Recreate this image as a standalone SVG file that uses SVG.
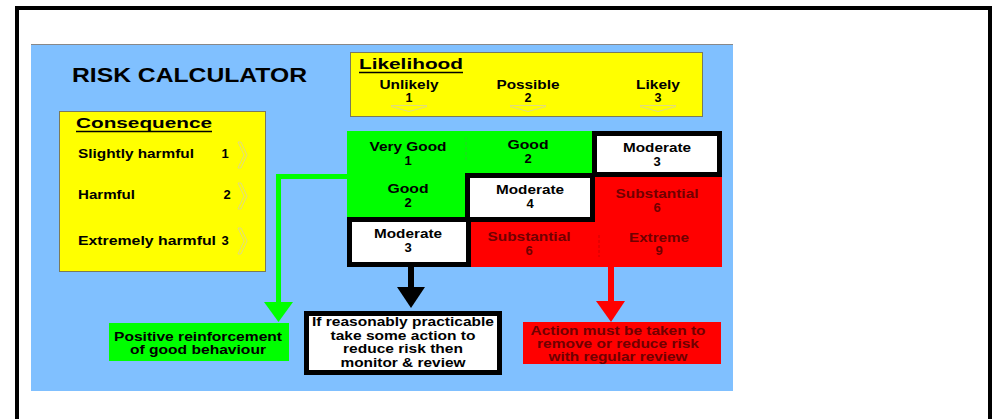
<svg xmlns="http://www.w3.org/2000/svg" width="994" height="419" viewBox="0 0 994 419">
<style>
text{font-family:"Liberation Sans",Arial,sans-serif;font-weight:bold;fill:#000}
.c{text-anchor:middle}
.t13{font-size:12.5px}
.t14{font-size:13px}
.dr{fill:#700000}
.yel{fill:#ffff00;stroke:#7a7a5a;stroke-width:1}
.grn{fill:#00ff00}
.red{fill:#ff0000}
.mod{fill:#ffffff;stroke:#000;stroke-width:5}
.faint{fill:none;stroke:#d8d2a0;stroke-width:0.8}
.div{stroke:#5a9a5a;stroke-width:0.8;stroke-dasharray:3 2;opacity:0.6}
.ul{stroke:#000;stroke-width:1.5}
</style>
<rect x="0" y="0" width="994" height="419" fill="#ffffff"/>
<rect x="17" y="8" width="973" height="430" fill="none" stroke="#000" stroke-width="4"/>
<rect x="31" y="44" width="702" height="347" fill="#80c0ff"/>
<line x1="31" y1="44.5" x2="733" y2="44.5" stroke="#888" stroke-width="1"/>
<text x="72" y="82" font-size="19.5" textLength="235" lengthAdjust="spacingAndGlyphs">RISK CALCULATOR</text>

<g id="consequence">
<rect class="yel" x="59.5" y="111.5" width="206" height="160"/>
<text x="76" y="128" font-size="15" textLength="136" lengthAdjust="spacingAndGlyphs">Consequence</text>
<line class="ul" x1="76" y1="131.5" x2="212" y2="131.5"/>
<text x="78" y="158" font-size="12.5" textLength="116" lengthAdjust="spacingAndGlyphs">Slightly harmful</text>
<text class="c" x="225" y="158" font-size="13">1</text>
<text x="78" y="199" font-size="12.5" textLength="57" lengthAdjust="spacingAndGlyphs">Harmful</text>
<text class="c" x="227" y="199" font-size="13">2</text>
<text x="78" y="245" font-size="12.5" textLength="138" lengthAdjust="spacingAndGlyphs">Extremely harmful</text>
<text class="c" x="225" y="245" font-size="13">3</text>
<path class="faint" d="M238,142 L241,142 L247,155 L241,168 L238,168 L244,155 Z"/>
<path class="faint" d="M238,183 L241,183 L247,196 L241,209 L238,209 L244,196 Z"/>
<path class="faint" d="M238,228 L241,228 L247,241 L241,254 L238,254 L244,241 Z"/>
</g>

<g id="likelihood">
<rect class="yel" x="350.5" y="52.5" width="352" height="64"/>
<text x="359" y="69" font-size="15.5" textLength="104" lengthAdjust="spacingAndGlyphs">Likelihood</text>
<line class="ul" x1="359" y1="72.5" x2="463" y2="72.5"/>
<text class="c t13" x="409" y="89" textLength="59" lengthAdjust="spacingAndGlyphs">Unlikely</text>
<text class="c t13" x="409" y="102">1</text>
<text class="c t13" x="528" y="89" textLength="63" lengthAdjust="spacingAndGlyphs">Possible</text>
<text class="c t13" x="528" y="102">2</text>
<text class="c t13" x="658" y="89" textLength="44" lengthAdjust="spacingAndGlyphs">Likely</text>
<text class="c t13" x="658" y="102">3</text>
<path class="faint" d="M391,105.5 L427,105.5 M391,106.5 L409,111.5 L427,106.5"/>
<path class="faint" d="M510,105.5 L546,105.5 M510,106.5 L528,111.5 L546,106.5"/>
<path class="faint" d="M640,105.5 L676,105.5 M640,106.5 L658,111.5 L676,106.5"/>
</g>

<g id="grid-background">
<rect class="grn" x="347" y="131" width="248" height="44"/>
<rect class="grn" x="347" y="173" width="121" height="46"/>
<rect class="red" x="593" y="175" width="129" height="46"/>
<rect class="red" x="469" y="219" width="253" height="48"/>
<line class="div" x1="466" y1="137" x2="466" y2="162"/>
<line class="div" x1="599" y1="235" x2="599" y2="257" style="stroke:#a00000"/>
</g>

<g id="cell-very-good-1">
<text class="c t14" x="408" y="151" textLength="77" lengthAdjust="spacingAndGlyphs">Very Good</text>
<text class="c t14" x="408" y="164.5">1</text>
</g>
<g id="cell-good-2a">
<text class="c t14" x="528" y="149" textLength="41" lengthAdjust="spacingAndGlyphs">Good</text>
<text class="c t14" x="528" y="162.5">2</text>
</g>
<g id="cell-moderate-3a">
<rect class="mod" x="594.5" y="133.5" width="125" height="41"/>
<text class="c t14" x="657" y="152" textLength="68" lengthAdjust="spacingAndGlyphs">Moderate</text>
<text class="c t14" x="657" y="166">3</text>
</g>
<g id="cell-good-2b">
<text class="c t14" x="408" y="193" textLength="41" lengthAdjust="spacingAndGlyphs">Good</text>
<text class="c t14" x="408" y="207">2</text>
</g>
<g id="cell-moderate-4">
<rect class="mod" x="467.5" y="175.5" width="125" height="44"/>
<text class="c t14" x="530" y="194" textLength="68" lengthAdjust="spacingAndGlyphs">Moderate</text>
<text class="c t14" x="530" y="207.5">4</text>
</g>
<g id="cell-substantial-6a">
<text class="c t14 dr" x="657" y="198" textLength="83" lengthAdjust="spacingAndGlyphs">Substantial</text>
<text class="c t14 dr" x="657" y="211.5">6</text>
</g>
<g id="cell-moderate-3b">
<rect class="mod" x="349.5" y="219.5" width="119" height="45"/>
<text class="c t14" x="408" y="238" textLength="68" lengthAdjust="spacingAndGlyphs">Moderate</text>
<text class="c t14" x="408" y="252">3</text>
</g>
<g id="cell-substantial-6b">
<text class="c t14 dr" x="529" y="241" textLength="83" lengthAdjust="spacingAndGlyphs">Substantial</text>
<text class="c t14 dr" x="529" y="254.5">6</text>
</g>
<g id="cell-extreme-9">
<text class="c t14 dr" x="659" y="241.5" textLength="60" lengthAdjust="spacingAndGlyphs">Extreme</text>
<text class="c t14 dr" x="659" y="255">9</text>
</g>

<g id="connectors">
<polyline points="348,176.5 278.5,176.5 278.5,304" fill="none" stroke="#00ff00" stroke-width="5"/>
<polygon points="264,302 293,302 278.5,322" fill="#00ff00"/>
<line x1="411" y1="266" x2="411" y2="289" stroke="#000" stroke-width="6"/>
<polygon points="397,287 425,287 411,308" fill="#000"/>
<line x1="611" y1="266" x2="611" y2="303" stroke="#ff0000" stroke-width="6"/>
<polygon points="596,301 625,301 611,322" fill="#ff0000"/>
</g>

<g id="outcome-positive">
<rect class="grn" x="109" y="323" width="180" height="38"/>
<text class="c t13" x="198" y="340.5" textLength="168" lengthAdjust="spacingAndGlyphs">Positive reinforcement</text>
<text class="c t13" x="198" y="354" textLength="136" lengthAdjust="spacingAndGlyphs">of good behaviour</text>
</g>
<g id="outcome-monitor">
<rect x="306.5" y="313.5" width="193" height="59" fill="#ffffff" stroke="#000" stroke-width="5"/>
<text class="c t13" x="403" y="326" textLength="182" lengthAdjust="spacingAndGlyphs">If reasonably practicable</text>
<text class="c t13" x="403" y="339.5" textLength="145" lengthAdjust="spacingAndGlyphs">take some action to</text>
<text class="c t13" x="403" y="353" textLength="120" lengthAdjust="spacingAndGlyphs">reduce risk then</text>
<text class="c t13" x="403" y="366.5" textLength="125" lengthAdjust="spacingAndGlyphs">monitor &amp; review</text>
</g>
<g id="outcome-action">
<rect class="red" x="523" y="322" width="198" height="42"/>
<text class="c t13 dr" x="618" y="335" textLength="175" lengthAdjust="spacingAndGlyphs">Action must be taken to</text>
<text class="c t13 dr" x="618" y="348" textLength="162" lengthAdjust="spacingAndGlyphs">remove or reduce risk</text>
<text class="c t13 dr" x="618" y="361" textLength="139" lengthAdjust="spacingAndGlyphs">with regular review</text>
</g>
</svg>
